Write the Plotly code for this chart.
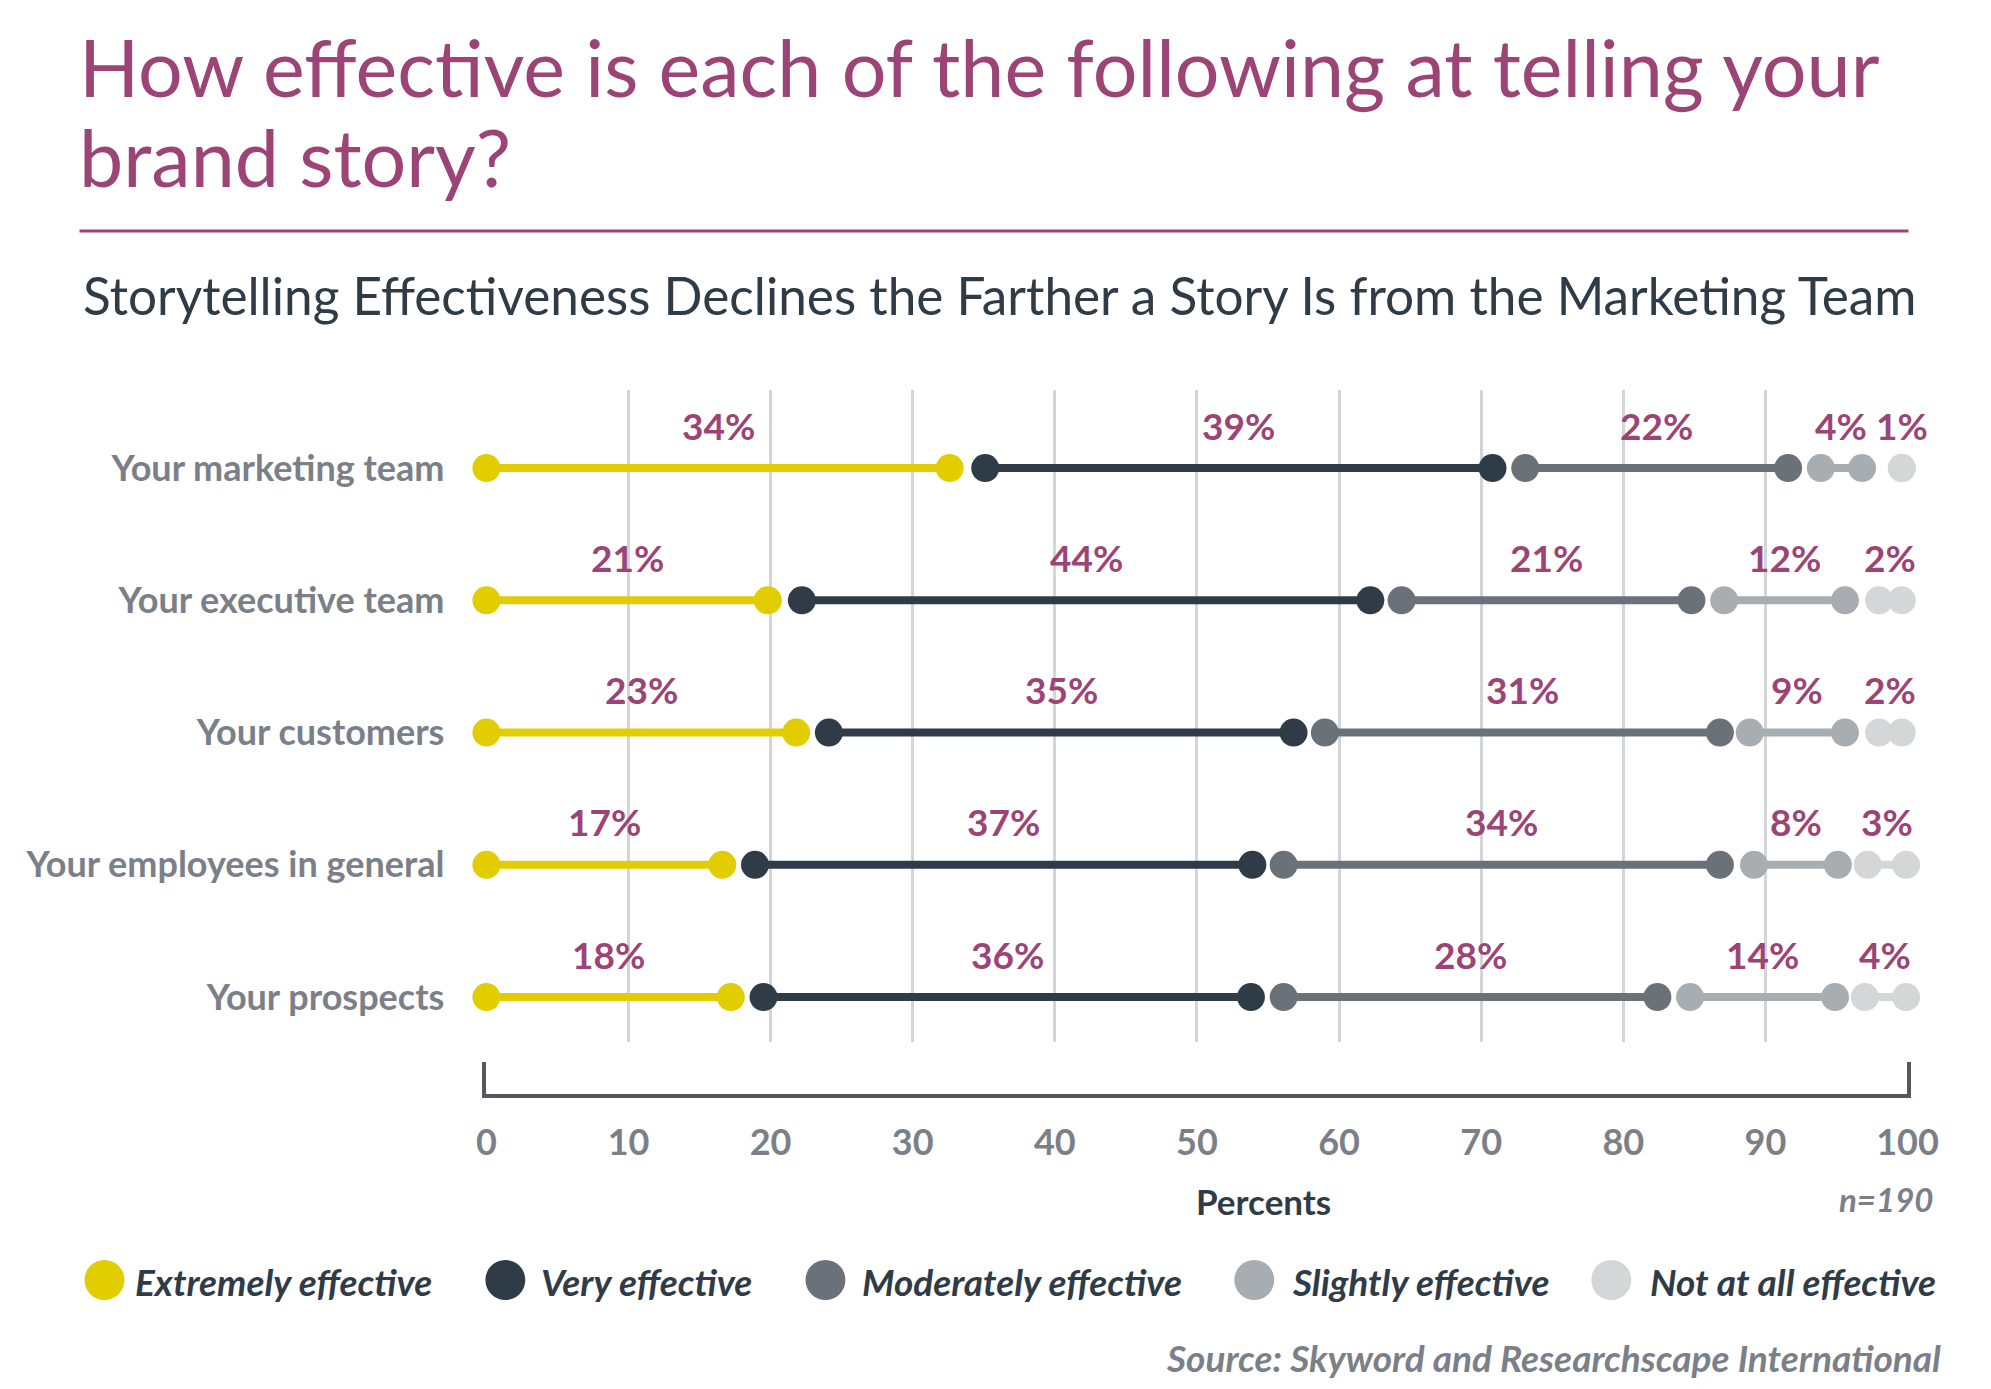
import plotly.graph_objects as go

# page is 1991x1389; the html body has an 8px margin
OFF = 8
W, H = 1975, 1373

categories = ["Your marketing team", "Your executive team", "Your customers",
              "Your employees in general", "Your prospects"]
series_names = ["Extremely effective", "Very effective", "Moderately effective",
                "Slightly effective", "Not at all effective"]
series_colors = ["#E2CD00", "#2F3C47", "#6B7179", "#A8ADB1", "#D5D6D8"]

# percentages shown as labels
extremely = [34, 21, 23, 17, 18]
very = [39, 44, 35, 37, 36]
moderately = [22, 21, 31, 34, 28]
slightly = [4, 12, 9, 8, 14]
not_at_all = [1, 2, 2, 3, 4]

# segment start/end positions on the 0-100 axis
extremely_start = [0, 0, 0, 0, 0]
extremely_end = [32.6, 19.8, 21.8, 16.6, 17.2]
very_start = [35.1, 22.2, 24.1, 18.9, 19.5]
very_end = [70.8, 62.2, 56.8, 53.9, 53.8]
moderately_start = [73.1, 64.4, 59.0, 56.1, 56.1]
moderately_end = [91.6, 84.8, 86.8, 86.8, 82.4]
slightly_start = [93.9, 87.1, 88.9, 89.2, 84.7]
slightly_end = [96.8, 95.6, 95.6, 95.1, 94.9]
not_at_all_start = [99.6, 98.0, 98.0, 97.2, 97.0]
not_at_all_end = [99.6, 99.6, 99.6, 99.9, 99.9]

x_ticks = [0, 10, 20, 30, 40, 50, 60, 70, 80, 90, 100]

values = [extremely, very, moderately, slightly, not_at_all]
starts = [extremely_start, very_start, moderately_start, slightly_start, not_at_all_start]
ends = [extremely_end, very_end, moderately_end, slightly_end, not_at_all_end]

MAGENTA = "#9B4475"
DARK = "#2F3C47"
GRAY = "#7B8088"


def px(x):
    # horizontal page position -> paper fraction (with a measured display correction)
    return (1.0184 * x - 7.6 - OFF) / W


def py(y):
    return 1 - (y - OFF) / H


fig = go.Figure()

for name, color, st, en in zip(series_names, series_colors, starts, ends):
    xs, ys = [], []
    for c, s, e in zip(categories, st, en):
        xs += [s, e, None]
        ys += [c, c, None]
    fig.add_trace(go.Scatter(
        x=xs, y=ys, mode="lines+markers", name=name,
        line=dict(color=color, width=8),
        marker=dict(color=color, size=28, line=dict(width=0)),
        cliponaxis=False, showlegend=False, hoverinfo="skip",
    ))

annotations = []
for vals, st, en in zip(values, starts, ends):
    for c, v, s, e in zip(categories, vals, st, en):
        annotations.append(dict(
            x=(s + e) / 2, y=c, xref="x", yref="y", text=f"<b>{v}%</b>",
            showarrow=False, yshift=43,
            font=dict(family="Lato", size=37, color=MAGENTA),
        ))

# bracket axis with tick labels (second subplot)
fig.add_trace(go.Scatter(x=[None], y=[None], xaxis="x2", yaxis="y2",
                         showlegend=False, hoverinfo="skip"))

x_dom = [px(485), px(1910)]

fig.update_layout(
    width=W, height=H,
    margin=dict(l=0, r=0, t=0, b=0),
    paper_bgcolor="white", plot_bgcolor="white",
    showlegend=False,
    xaxis=dict(domain=x_dom, range=[0, 100], tickvals=x_ticks, showticklabels=False,
               showgrid=True, gridcolor="#D3D5D8", gridwidth=3, zeroline=False,
               showline=False, ticks="", anchor="y"),
    yaxis=dict(domain=[py(1042), py(390)], type="category",
               categoryorder="array", categoryarray=categories,
               range=[4.34, -0.59], showgrid=False, zeroline=False, ticks="",
               ticklabelstandoff=41,
               tickfont=dict(family="Lato", size=36, color=GRAY, weight="bold"),
               anchor="x"),
    xaxis2=dict(domain=x_dom, range=[0, 100], tickvals=x_ticks,
                showline=True, linecolor="#55595F", linewidth=4,
                showgrid=False, zeroline=False, ticks="", ticklabelstandoff=14,
                tickfont=dict(family="Lato", size=36, color=GRAY, weight="bold"),
                anchor="y2"),
    yaxis2=dict(domain=[py(1094), py(1062)], range=[0, 1], showline=True,
                mirror=True, linecolor="#55595F", linewidth=4,
                showgrid=False, zeroline=False, showticklabels=False, ticks="",
                anchor="x2"),
)

# title & subtitle
annotations += [
    dict(x=px(74), y=py(17), xref="paper", yref="paper", xanchor="left", yanchor="top",
         align="left", showarrow=False,
         text="How effective is each of the following at telling your",
         font=dict(family="Lato", size=79, color=MAGENTA)),
    dict(x=px(74), y=py(107), xref="paper", yref="paper", xanchor="left", yanchor="top",
         align="left", showarrow=False, text="brand story?",
         font=dict(family="Lato", size=79, color=MAGENTA)),
    dict(x=px(78), y=py(295), xref="paper", yref="paper", xanchor="left", yanchor="middle",
         showarrow=False,
         text="Storytelling Effectiveness Declines the Farther a Story Is from the Marketing Team",
         font=dict(family="Lato", size=51.3, color=DARK)),
    dict(x=px(1264), y=py(1201), xref="paper", yref="paper", xanchor="center", yanchor="middle",
         showarrow=False, text="<b>Percents</b>",
         font=dict(family="Lato", size=35, color=DARK)),
    dict(x=px(1938), y=py(1199), xref="paper", yref="paper", xanchor="right", yanchor="middle",
         showarrow=False, text="<b><i>n=190</i></b>",
         font=dict(family="Lato", size=33, color=GRAY)),
    dict(x=px(1946), y=py(1357), xref="paper", yref="paper", xanchor="right", yanchor="middle",
         showarrow=False, text="<b><i>Source: Skyword and Researchscape International</i></b>",
         font=dict(family="Lato", size=37, color=GRAY)),
]

shapes = [dict(type="line", xref="paper", yref="paper", x0=px(77), x1=px(1911),
               y0=py(231), y1=py(231), line=dict(color=MAGENTA, width=3))]

# custom legend
legend_circle_x = [102, 504, 825, 1255, 1613]
legend_text_x = [131, 538, 860, 1291, 1650]
r = 20
for name, color, cx, tx in zip(series_names, series_colors, legend_circle_x, legend_text_x):
    shapes.append(dict(type="circle", xref="paper", yref="paper",
                       x0=px(cx - r), x1=px(cx + r), y0=py(1280 + r), y1=py(1280 - r),
                       fillcolor=color, line=dict(width=0)))
    annotations.append(dict(x=px(tx), y=py(1281), xref="paper", yref="paper",
                            xanchor="left", yanchor="middle", showarrow=False,
                            text=f"<b><i>{name}</i></b>",
                            font=dict(family="Lato", size=37, color=DARK)))

fig.update_layout(annotations=annotations, shapes=shapes)
fig.write_html("out.html")
